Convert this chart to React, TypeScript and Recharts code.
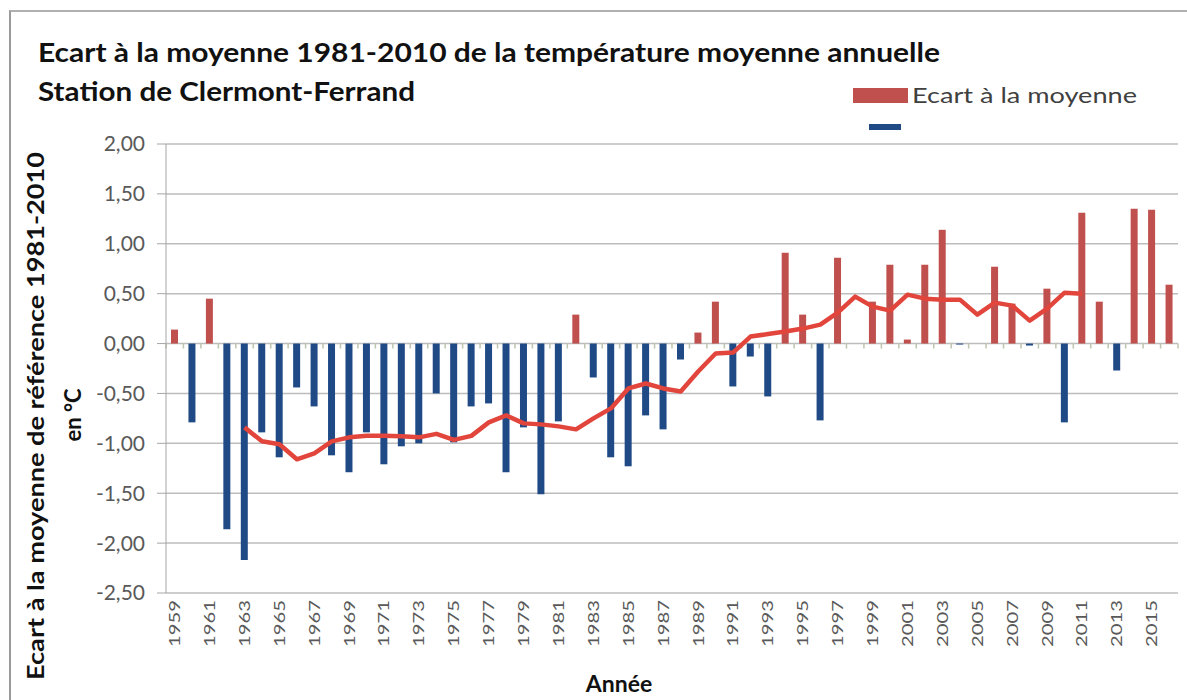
import React from "react"
import { ComposedChart, Bar, Line, Cell, XAxis, YAxis, CartesianGrid, ReferenceLine } from "recharts"

// Années 1959-2016
const annees = [
  1959, 1960, 1961, 1962, 1963, 1964, 1965, 1966, 1967, 1968, 1969, 1970, 1971, 1972, 1973,
  1974, 1975, 1976, 1977, 1978, 1979, 1980, 1981, 1982, 1983, 1984, 1985, 1986, 1987, 1988,
  1989, 1990, 1991, 1992, 1993, 1994, 1995, 1996, 1997, 1998, 1999, 2000, 2001, 2002, 2003,
  2004, 2005, 2006, 2007, 2008, 2009, 2010, 2011, 2012, 2013, 2014, 2015, 2016,
]

// écart à la moyenne 1981-2010 (°C)
const ecarts = [
  0.14, -0.79, 0.45, -1.86, -2.17, -0.89, -1.14, -0.44, -0.63, -1.12, -1.29, -0.89, -1.21, -1.03, -1.0,
  -0.5, -0.99, -0.63, -0.6, -1.29, -0.84, -1.51, -0.78, 0.29, -0.34, -1.14, -1.23, -0.72, -0.86, -0.16,
  0.11, 0.42, -0.43, -0.13, -0.53, 0.91, 0.29, -0.77, 0.86, 0, 0.42, 0.79, 0.04, 0.79, 1.14,
  -0.01, 0, 0.77, 0.4, -0.02, 0.55, -0.79, 1.31, 0.42, -0.27, 1.35, 1.34, 0.59,
]

// moyenne mobile
const moyenneMobile = [
  null, null, null, null, -0.84, -0.98, -1.01, -1.16, -1.1, -0.98, -0.94, -0.925, -0.925, -0.93, -0.94,
  -0.905, -0.965, -0.925, -0.79, -0.72, -0.8, -0.81, -0.83, -0.86, -0.75, -0.65, -0.45, -0.4, -0.45, -0.48,
  -0.28, -0.1, -0.09, 0.07, 0.095, 0.12, 0.15, 0.19, 0.31, 0.47, 0.37, 0.33, 0.49, 0.45, 0.44,
  0.44, 0.29, 0.41, 0.38, 0.23, 0.35, 0.51, 0.5, null, null, null, null, null,
]

const yTicks = [-2.5, -2, -1.5, -1, -0.5, 0, 0.5, 1, 1.5, 2]

const ROUGE = "#C0504D"
const BLEU = "#1F4A86"
const LIGNE = "#E2453C"
const GRIS = "#595959"

const data = annees.map((a, i) => ({
  annee: String(a),
  ecart: ecarts[i],
  moyenne: moyenneMobile[i],
}))

const fmt = (v: number) => v.toFixed(2).replace(".", ",")

function AnneeTick(props: any) {
  const { x, y, payload } = props
  return (
    <text
      x={x}
      y={y}
      transform={`rotate(-90, ${x}, ${y})`}
      textAnchor="end"
      dy="0.36em"
      fontSize={15}
      fill={GRIS}
      fontFamily="Lato, sans-serif"
      textLength={47}
      lengthAdjust="spacingAndGlyphs"
    >
      {payload.value}
    </text>
  )
}

export default function App() {
  const font = "Lato, 'Open Sans', sans-serif"
  return (
    <div style={{ position: "absolute", left: 0, top: 0, width: 1187, height: 700, background: "#fff", overflow: "hidden" }}>
      <div
        style={{
          position: "absolute",
          left: 9,
          top: 10,
          width: 1200,
          height: 720,
          borderLeft: "2px solid #9a9a9a",
          borderTop: "2px solid #b0b0b0",
        }}
      />
      <ComposedChart
        width={1187}
        height={700}
        data={data}
        margin={{ top: 144, right: 9, left: 0, bottom: 47 }}
        style={{ position: "absolute", left: 0, top: 0 }}
      >
        <CartesianGrid vertical={false} stroke="#BDBDBD" strokeWidth={1.5} />
        <XAxis
          dataKey="annee"
          interval={1}
          height={60}
          axisLine={false}
          tickLine={false}
          tickSize={6}
          tickMargin={1}
          tick={<AnneeTick />}
        />
        <YAxis
          width={166}
          domain={[-2.5, 2]}
          ticks={yTicks}
          tickFormatter={fmt}
          stroke="#A6A6A6"
          tickSize={9}
          tickMargin={12}
          tick={{ fill: GRIS, fontSize: 21, fontFamily: font }}
        />
        {annees.map((a) => (
          <ReferenceLine
            key={a}
            segment={[{ x: String(a), y: 0 }, { x: String(a), y: -0.05 }]}
            position="start"
            stroke="#BCC6AE"
            strokeWidth={1.5}
          />
        ))}
        <ReferenceLine
          segment={[{ x: "2016", y: 0 }, { x: "2016", y: -0.05 }]}
          position="end"
          stroke="#BCC6AE"
          strokeWidth={1.5}
        />
        <Bar dataKey="ecart" barSize={7} isAnimationActive={false}>
          {data.map((d, i) => (
            <Cell key={`cell-${i}`} fill={d.ecart >= 0 ? ROUGE : BLEU} />
          ))}
        </Bar>
        <Line
          type="linear"
          dataKey="moyenne"
          stroke={LIGNE}
          strokeWidth={4.5}
          strokeLinejoin="round"
          dot={false}
          isAnimationActive={false}
        />
      </ComposedChart>
      <svg width={1187} height={700} style={{ position: "absolute", left: 0, top: 0, pointerEvents: "none" }}>
        <g fontFamily={font} fill="#111">
          <text x={38} y={62} fontSize={26} fontWeight="bold" textLength={902} lengthAdjust="spacingAndGlyphs">
            Ecart à la moyenne 1981-2010 de la température moyenne annuelle
          </text>
          <text x={38} y={101} fontSize={26} fontWeight="bold" textLength={377} lengthAdjust="spacingAndGlyphs">
            Station de Clermont-Ferrand
          </text>
          <text
            x={36}
            y={416}
            transform="rotate(-90, 36, 416)"
            textAnchor="middle"
            dy="0.35em"
            fontSize={22}
            fontWeight="bold"
            textLength={528}
            lengthAdjust="spacingAndGlyphs"
          >
            Ecart à la moyenne de référence 1981-2010
          </text>
          <text
            x={73}
            y={415}
            transform="rotate(-90, 73, 415)"
            textAnchor="middle"
            dy="0.35em"
            fontSize={22}
            fontWeight="bold"
          >
            en °C
          </text>
          <text x={619} y={692} textAnchor="middle" fontSize={23} fontWeight="bold">
            Année
          </text>
        </g>
        <rect x={853} y={88} width={55} height={15} fill={ROUGE} />
        <text x={912} y={103} fontSize={21} fill="#404040" fontFamily={font} textLength={225} lengthAdjust="spacingAndGlyphs">
          Ecart à la moyenne
        </text>
        <rect x={869} y={124} width={32} height={6} fill={BLEU} />
      </svg>
    </div>
  )
}
